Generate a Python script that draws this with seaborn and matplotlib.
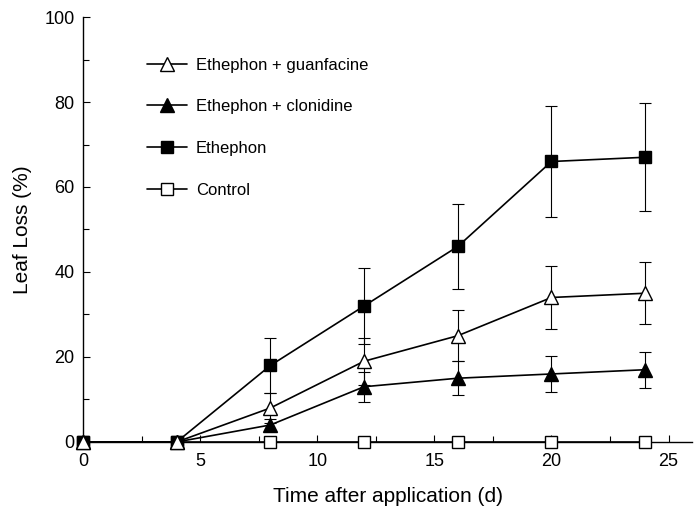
import numpy as np
import pandas as pd
import seaborn as sns
import matplotlib.pyplot as plt

days = [0, 4, 8, 12, 16, 20, 24]
series_names = ["Ethephon + guanfacine", "Ethephon + clonidine", "Ethephon", "Control"]
guanfacine = [0, 0, 8, 19, 25, 34, 35]
guanfacine_err = [0, 0, 3.5, 5.5, 6, 7.5, 7.3]
clonidine = [0, 0, 4, 13, 15, 16, 17]
clonidine_err = [0, 0, 1.5, 3.5, 4, 4.2, 4.2]
ethephon = [0, 0, 18, 32, 46, 66, 67]
ethephon_err = [0, 0, 6.4, 9, 10, 13, 12.7]
control = [0, 0, 0, 0, 0, 0, 0]
control_err = [0, 0, 0, 0, 0, 0, 0]

sns.set_theme(style="ticks", rc={"text.color": "black", "axes.labelcolor": "black",
                                 "xtick.color": "black", "ytick.color": "black"})
plt.rcParams["font.family"] = ["Liberation Sans", "DejaVu Sans"]

fig = plt.figure(figsize=(7, 5.08), dpi=100)
ax = fig.add_axes([0.1186, 0.130, 0.87, 0.8365])

values = [guanfacine, clonidine, ethephon, control]
errors = [guanfacine_err, clonidine_err, ethephon_err, control_err]
markers = ["^", "^", "s", "s"]
faces = ["white", "black", "black", "white"]
sizes = [10, 10, 9, 9]
zorders = [6, 5, 4, 3]

# draw control first so the triangles sit on top at day 0 and 4
for i in [3, 2, 1, 0]:
    df = pd.DataFrame({"day": days, "loss": values[i]})
    sub = df[df["day"] >= 8]
    err = np.array(errors[i])[df["day"] >= 8]
    if max(err) > 0:
        ax.errorbar(sub["day"], sub["loss"], yerr=err, fmt="none", ecolor="black",
                    elinewidth=0.8, capsize=4, capthick=0.8, zorder=2)
    sns.lineplot(data=df, x="day", y="loss", ax=ax, color="black", linewidth=1.2,
                 marker=markers[i], markersize=sizes[i], markerfacecolor=faces[i],
                 markeredgecolor="black", markeredgewidth=1.0, label=series_names[i],
                 zorder=zorders[i], clip_on=False)

handles, labels = ax.get_legend_handles_labels()
order = [labels.index(n) for n in series_names]
ax.legend([handles[k] for k in order], [labels[k] for k in order],
          frameon=False, loc="upper left", bbox_to_anchor=(0.08, 0.94),
          fontsize=12, labelspacing=1.6, handlelength=2.4, handletextpad=0.55)

ax.set_xlim(0, 26)
ax.set_ylim(0, 100)
ax.set_xticks([0, 5, 10, 15, 20, 25])
ax.set_xticks([2.5, 7.5, 12.5, 17.5, 22.5], minor=True)
ax.set_yticks([0, 20, 40, 60, 80, 100])
ax.set_yticks([10, 30, 50, 70, 90], minor=True)
ax.tick_params(axis="both", which="both", direction="in", labelsize=13, width=0.8)
ax.tick_params(axis="both", which="major", length=5)
ax.tick_params(axis="both", which="minor", length=4)
ax.tick_params(axis="x", which="major", pad=8)
ax.tick_params(axis="y", which="major", pad=6)
for s in ["left", "bottom"]:
    ax.spines[s].set_linewidth(1.0)
    ax.spines[s].set_color("black")
sns.despine(ax=ax)

ax.set_xlabel("Time after application (d)", fontsize=15, labelpad=12)
ax.set_ylabel("Leaf Loss (%)", fontsize=15, labelpad=9)

fig.savefig("out.png", dpi=100)
